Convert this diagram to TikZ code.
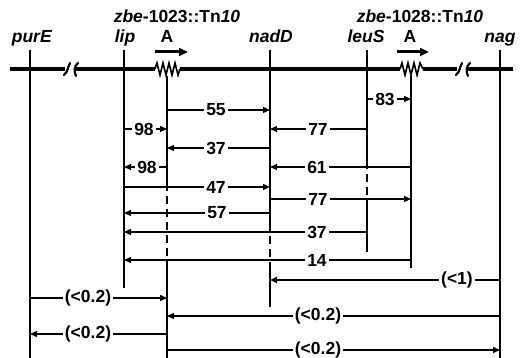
\documentclass[tikz,border=0pt]{standalone}
\usepackage{fontspec}
\setmainfont{Liberation Sans}
\usetikzlibrary{arrows.meta}
\begin{document}
\begin{tikzpicture}[x=1pt,y=-1pt,
  main/.style={line width=4.5pt},
  gene/.style={line width=1.6pt},
  hl/.style={line width=1.3pt},
  arr/.style={hl,-{Triangle[length=7pt,width=6pt]}},
  dashpart/.style={gene,dash pattern=on 8pt off 5pt},
  lbl/.style={fill=white,inner xsep=2pt,inner ysep=0.5pt,font=\fontsize{17.5}{17.5}\selectfont\bfseries},
  gname/.style={anchor=base,inner sep=0pt,font=\fontsize{17.5}{17.5}\selectfont\bfseries},
  tnarrow/.style={line width=3pt,-{Triangle[length=9pt,width=8pt]}},
  zig/.style={line width=1.6pt,line join=miter},
  brk/.style={line width=2.2pt,line cap=round}]
\useasboundingbox (0,0) rectangle (523,358);
% gene positions on the map
\coordinate (purE) at (30,69);
\coordinate (lip) at (124,69);
\coordinate (tnA) at (167,69);
\coordinate (nadD) at (270,69);
\coordinate (leuS) at (367,69);
\coordinate (tnB) at (411,69);
\coordinate (nag) at (500,69);
% labels
\node[gname] (purEl) at (32,43) {\textit{purE}};
\node[gname] (lipl) at (125,43) {\textit{lip}};
\node[gname] (tnAl) at (167,43) {A};
\node[gname] (tnAn) at (177,23) {\textit{zbe}-1023::Tn\textit{10}};
\node[gname] (nadDl) at (271,43) {\textit{nadD}};
\node[gname] (leuSl) at (366,43) {\textit{leuS}};
\node[gname] (tnBl) at (410,43) {A};
\node[gname] (tnBn) at (420,23) {\textit{zbe}-1028::Tn\textit{10}};
\node[gname] (nagl) at (500,43) {\textit{nag}};
% main chromosome line
\draw[main] (10,69) -- (65,69);
\draw[brk] (64,75) .. controls (68,72) and (68,66) .. (70,63);
\draw[brk] (78,63) .. controls (74,66) and (74,72) .. (76,76);
\draw[main] (75,69) -- (155,69);
\draw[zig] (155,69) -- (157,63) -- (160,75) -- (163,63) -- (166,75) -- (169,63) -- (172,75) -- (175,63) -- (178,75) -- (180,69);
\draw[main] (180,69) -- (400,69);
\draw[zig] (400,69) -- (402,63) -- (405,75) -- (408,63) -- (411,75) -- (414,63) -- (417,75) -- (420,63) -- (423,69);
\draw[main] (423,69) -- (457,69);
\draw[brk] (456,75) .. controls (460,72) and (460,66) .. (462,63);
\draw[brk] (470,63) .. controls (466,66) and (466,72) .. (468,76);
\draw[main] (467,69) -- (513,69);
% transposon direction arrows
\draw[tnarrow] (155,52) -- (188,52);
\draw[tnarrow] (397,52) -- (429,52);
% vertical lines
\draw[gene] (purE |- 0,50) -- (purE |- 0,358);
\draw[gene] (lip |- 0,50) -- (lip |- 0,288);
\draw[gene] (tnA |- 0,76) -- (tnA |- 0,183);
\draw[dashpart] (tnA |- 0,183) -- (tnA |- 0,265);
\draw[gene] (tnA |- 0,265) -- (tnA |- 0,358);
\draw[gene] (nadD |- 0,50) -- (nadD |- 0,223);
\draw[dashpart] (nadD |- 0,223) -- (nadD |- 0,265);
\draw[gene] (nadD |- 0,265) -- (nadD |- 0,307);
\draw[gene] (leuS |- 0,50) -- (leuS |- 0,161);
\draw[dashpart] (leuS |- 0,161) -- (leuS |- 0,198);
\draw[gene] (leuS |- 0,198) -- (leuS |- 0,252);
\draw[gene] (tnB |- 0,76) -- (tnB |- 0,268);
\draw[gene] (nag |- 0,50) -- (nag |- 0,358);
% distance lines
\draw[arr] (tnA |- 0,110) -- (nadD |- 0,110);
\node[lbl] (d1) at (216,110) {55};
\draw[arr] (leuS |- 0,99) -- (tnB |- 0,99);
\node[lbl] (d2) at (385,99) {83};
\draw[arr] (lip |- 0,129) -- (tnA |- 0,129);
\node[lbl] (d3) at (144,129) {98};
\draw[arr] (leuS |- 0,129) -- (nadD |- 0,129);
\node[lbl] (d4) at (318,129) {77};
\draw[arr] (nadD |- 0,148) -- (tnA |- 0,148);
\node[lbl] (d5) at (216,148) {37};
\draw[arr] (tnA |- 0,167) -- (lip |- 0,167);
\node[lbl] (d6) at (147,167) {98};
\draw[arr] (tnB |- 0,167) -- (nadD |- 0,167);
\node[lbl] (d7) at (317,167) {61};
\draw[arr] (lip |- 0,187) -- (nadD |- 0,187);
\node[lbl] (d8) at (216,187) {47};
\draw[arr] (nadD |- 0,199) -- (tnB |- 0,199);
\node[lbl] (d9) at (318,199) {77};
\draw[arr] (nadD |- 0,213) -- (lip |- 0,213);
\node[lbl] (d10) at (217,213) {57};
\draw[arr] (leuS |- 0,232) -- (lip |- 0,232);
\node[lbl] (d11) at (317,232) {37};
\draw[arr] (tnB |- 0,260) -- (lip |- 0,260);
\node[lbl] (d12) at (317,260) {14};
\draw[arr] (nag |- 0,280) -- (nadD |- 0,280);
\node[lbl] (d13) at (457,280) {(<1)};
\draw[arr] (purE |- 0,298) -- (tnA |- 0,298);
\node[lbl] (d14) at (88,298) {(<0.2)};
\draw[arr] (nag |- 0,316) -- (tnA |- 0,316);
\node[lbl] (d15) at (318,316) {(<0.2)};
\draw[arr] (tnA |- 0,334) -- (purE |- 0,334);
\node[lbl] (d16) at (88,334) {(<0.2)};
\draw[arr] (tnA |- 0,350) -- (nag |- 0,350);
\node[lbl] (d17) at (318,349.5) {(<0.2)};
\end{tikzpicture}
\end{document}
